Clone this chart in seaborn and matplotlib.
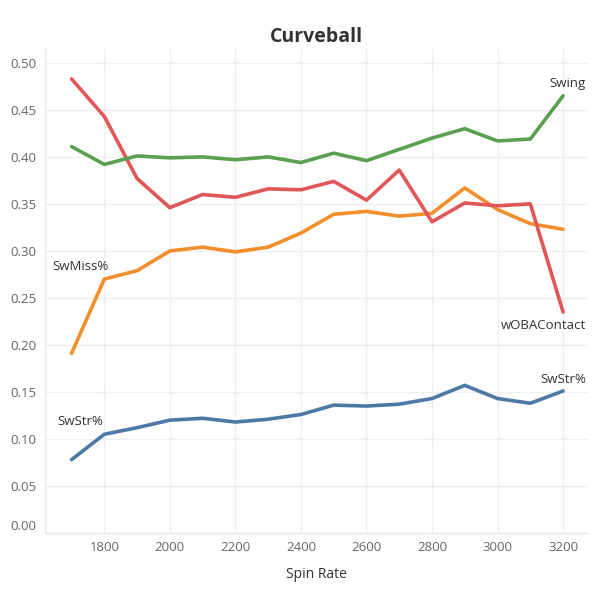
import matplotlib
matplotlib.use("Agg")
import matplotlib.pyplot as plt
import seaborn as sns
import pandas as pd

spin_rate = [1700, 1800, 1900, 2000, 2100, 2200, 2300, 2400, 2500,
             2600, 2700, 2800, 2900, 3000, 3100, 3200]
swstr = [0.078, 0.105, 0.112, 0.120, 0.122, 0.118, 0.121, 0.126, 0.136,
         0.135, 0.137, 0.143, 0.157, 0.143, 0.138, 0.151]
swmiss = [0.191, 0.270, 0.279, 0.300, 0.304, 0.299, 0.304, 0.319, 0.339,
          0.342, 0.337, 0.340, 0.367, 0.344, 0.329, 0.323]
woba_contact = [0.483, 0.443, 0.377, 0.346, 0.360, 0.357, 0.366, 0.365, 0.374,
                0.354, 0.386, 0.331, 0.351, 0.348, 0.350, 0.235]
swing = [0.411, 0.392, 0.401, 0.399, 0.400, 0.397, 0.400, 0.394, 0.404,
         0.396, 0.408, 0.420, 0.430, 0.417, 0.419, 0.465]

series = {"SwStr%": swstr, "SwMiss%": swmiss,
          "wOBAContact": woba_contact, "Swing": swing}
colors = {"SwStr%": "#4e79a7", "SwMiss%": "#f28e2b",
          "wOBAContact": "#e15759", "Swing": "#59a14f"}

df = pd.DataFrame([(s, x, v) for s, vals in series.items()
                   for x, v in zip(spin_rate, vals)],
                  columns=["Measure", "Spin Rate", "Value"])

sns.set_style("white")
plt.rcParams["font.family"] = ["Open Sans", "DejaVu Sans"]

fig = plt.figure(figsize=(6, 6), dpi=100)
ax = fig.add_axes([0.075, 0.1117, 0.905, 0.807])
sns.lineplot(data=df, x="Spin Rate", y="Value", hue="Measure",
             palette=colors, linewidth=2.6, legend=False, ax=ax)

ax.set_xlim(1619, 3276)
ax.set_ylim(0, 0.515)
ax.set_xticks(range(1800, 3201, 200))
ax.set_yticks([i * 0.05 for i in range(11)])
ax.set_yticklabels([f"{i * 0.05:.2f}" for i in range(11)])
ax.grid(True, color="#efefef", linewidth=1)
ax.tick_params(length=0, labelsize=9.5, colors="#666666", pad=6)
ax.get_yticklabels()[0].set_verticalalignment("bottom")
for side in ["top", "right"]:
    ax.spines[side].set_visible(False)
for side in ["left", "bottom"]:
    ax.spines[side].set_color("#e6e6e6")
ax.set_ylabel("")
ax.set_xlabel("Spin Rate", fontsize=10, color="#333333", labelpad=9)
ax.set_title("Curveball", fontsize=14, fontweight="bold", color="#333333", pad=5)

lab_kw = dict(textcoords="offset pixels", fontsize=9.5, color="#333333", va="center")
ax.annotate("SwMiss%", (spin_rate[0], swmiss[0]), xytext=(9, 87), ha="center", **lab_kw)
ax.annotate("SwStr%", (spin_rate[0], swstr[0]), xytext=(9, 38), ha="center", **lab_kw)
ax.annotate("Swing", (spin_rate[-1], swing[-1]), xytext=(23, 12), ha="right", **lab_kw)
ax.annotate("wOBAContact", (spin_rate[-1], woba_contact[-1]), xytext=(23, -13), ha="right", **lab_kw)
ax.annotate("SwStr%", (spin_rate[-1], swstr[-1]), xytext=(23, 12), ha="right", **lab_kw)

fig.savefig("out.png", dpi=100)
